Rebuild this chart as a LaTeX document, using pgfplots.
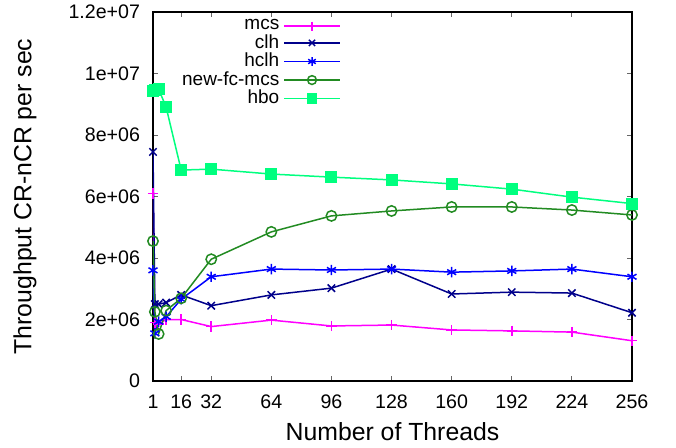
\documentclass[border=0pt]{standalone}
\usepackage{fontspec}
\setmainfont{Liberation Sans}
\usepackage{pgfplots}
\pgfplotsset{compat=1.18}
\definecolor{cmcs}{RGB}{255,0,255}
\definecolor{cclh}{RGB}{0,0,139}
\definecolor{chclh}{RGB}{0,0,255}
\definecolor{cfc}{RGB}{34,139,34}
\definecolor{chbo}{RGB}{0,255,127}
\begin{document}
\begin{tikzpicture}
\useasboundingbox (-76.5pt,-33pt) rectangle (261.5pt,190.5pt);
\begin{axis}[
  at={(0,0)}, anchor=south west, scale only axis,
  width=239.5pt, height=184.5pt,
  xmin=1, xmax=256, ymin=0, ymax=1.2e7,
  xtick={1,16,32,64,96,128,160,192,224,256},
  xticklabels={1,16,32,64,96,128,160,192,224,256},
  ytick={0,2e6,4e6,6e6,8e6,1e7,1.2e7},
  yticklabels={0,2e+06,4e+06,6e+06,8e+06,1e+07,1.2e+07},
  scaled y ticks=false,
  tick label style={font=\fontsize{9.8}{11}\selectfont},
  xticklabel style={yshift=-3.5pt},
  yticklabel style={xshift=-3pt},
  label style={font=\fontsize{12.4}{14}\selectfont},
  xlabel={Number of Threads},
  ylabel={Throughput CR-nCR per sec},
  xlabel style={at={(axis description cs:0.5,-0.1382)}, anchor=center},
  ylabel style={at={(axis description cs:-0.2672,0.5)}, anchor=center},
  tick align=inside, major tick length=2.5pt,
  tick style={black!60, line width=0.5pt},
  axis line style={line width=0.6pt},
  every axis plot/.append style={line width=0.75pt, mark size=2.6pt},
  legend plot pos=right,
  legend cell align=right,
  legend image code/.code={\draw[mark repeat=2,mark phase=2,mark size=2.2pt] plot coordinates {(0pt,0pt) (14pt,0pt) (28pt,0pt)};},
  legend style={draw=none, fill=none, at={(axis description cs:0.397,0.997)}, anchor=north east,
    font=\fontsize{9.5}{11}\selectfont, inner sep=1pt, row sep=-3.1pt},
]
\addplot[color=cmcs, mark=+] coordinates {
 (1,6.1e6) (2,1.9e6) (4,1.85e6) (8,2.0e6) (16,2.0e6) (32,1.77e6) (64,1.98e6) (96,1.79e6)
 (128,1.82e6) (160,1.66e6) (192,1.63e6) (224,1.59e6) (256,1.31e6)};
\addlegendentry{mcs}
\addplot[color=cclh, mark=x] coordinates {
 (1,7.45e6) (2,2.5e6) (4,2.5e6) (8,2.55e6) (16,2.8e6) (32,2.45e6) (64,2.8e6) (96,3.02e6)
 (128,3.64e6) (160,2.83e6) (192,2.89e6) (224,2.86e6) (256,2.22e6)};
\addlegendentry{clh}
\addplot[color=chclh, mark=asterisk] coordinates {
 (1,3.6e6) (2,1.55e6) (4,1.93e6) (8,2.09e6) (16,2.66e6) (32,3.39e6) (64,3.64e6) (96,3.61e6)
 (128,3.64e6) (160,3.54e6) (192,3.58e6) (224,3.64e6) (256,3.39e6)};
\addlegendentry{hclh}
\addplot[color=cfc, mark=o] coordinates {
 (1,4.55e6) (2,2.25e6) (4,1.53e6) (8,2.29e6) (16,2.69e6) (32,3.96e6) (64,4.85e6) (96,5.37e6)
 (128,5.53e6) (160,5.66e6) (192,5.66e6) (224,5.56e6) (256,5.4e6)};
\addlegendentry{new-fc-mcs}
\addplot[color=chbo, mark=square*] coordinates {
 (1,9.42e6) (2,9.45e6) (4,9.5e6) (8,8.9e6) (16,6.86e6) (32,6.89e6) (64,6.73e6) (96,6.63e6)
 (128,6.54e6) (160,6.41e6) (192,6.24e6) (224,5.98e6) (256,5.77e6)};
\addlegendentry{hbo}
\end{axis}
\end{tikzpicture}
\end{document}
